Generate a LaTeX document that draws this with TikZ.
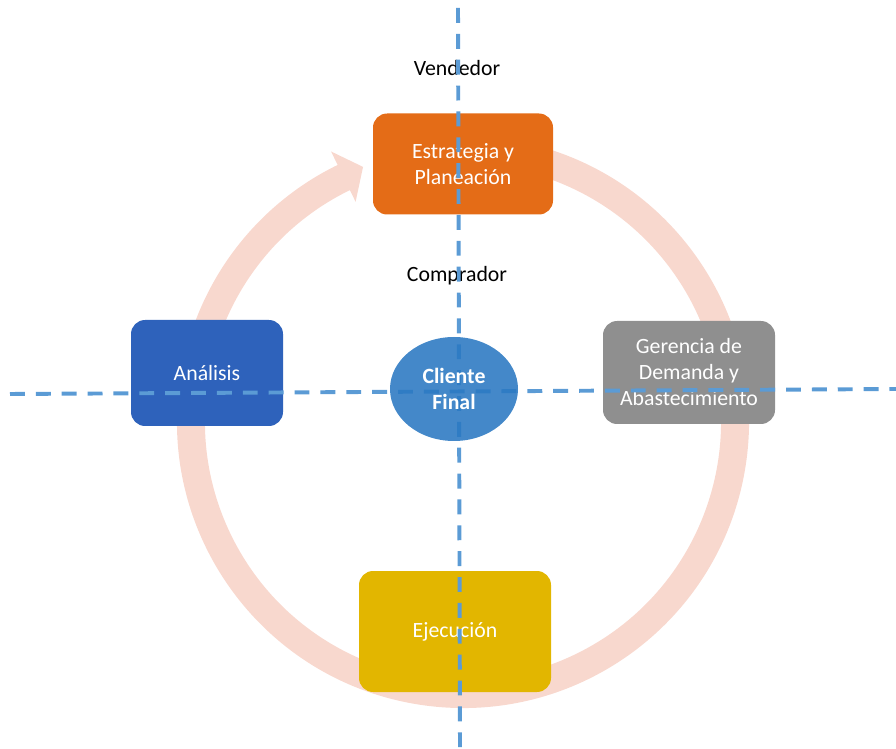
\documentclass[tikz,border=0pt]{standalone}
\usepackage{fontspec}
\setmainfont{Carlito}
\definecolor{cycle}{HTML}{F8D8CE}
\definecolor{axis}{HTML}{5B9BD5}
\definecolor{plan}{HTML}{E46C17}
\definecolor{analysis}{HTML}{2E62BB}
\definecolor{demand}{HTML}{8F8F8F}
\definecolor{execution}{HTML}{E2B600}
\definecolor{client}{HTML}{2A78C2}
\usetikzlibrary{positioning, shapes.geometric}

\begin{document}
\begin{tikzpicture}[line join=round,
    phase/.style={rounded corners=10pt, text=white, align=center,
        font=\fontsize{15.5}{18.5}\selectfont},
    role/.style={font=\fontsize{15.5}{18.5}\selectfont},
    axisline/.style={axis, line width=2.8pt, dash pattern=on 10.6pt off 7.8pt}]
    \useasboundingbox (0,0) rectangle (22.4,18.7);

    % Centre of the cycle arrow
    \coordinate (O) at (11.575, 8.15);

    % Cycle arrow (clockwise, tip pointing into the top box)
    \begin{scope}[shift={(O)}]
        \fill[cycle] (80:7.15) arc[start angle=80, end angle=-244, radius=7.15]
            -- (116:7.525) -- (111.4:6.85) -- (116:6.125) -- (116:6.45)
            arc[start angle=-244, end angle=80, radius=6.45] -- cycle;
    \end{scope}

    % Phase boxes
    \node[phase, fill=plan, minimum width=4.5cm, minimum height=2.525cm]
        (plan) at (11.575, 14.6) {Estrategia y\\Planeación};
    \node[phase, fill=analysis, minimum width=3.8cm, minimum height=2.65cm]
        (analysis) at (5.175, 9.375) {Análisis};
    \node[phase, fill=demand, minimum width=4.3cm, minimum height=2.575cm]
        (demand) at (17.225, 9.3875) {Gerencia de\\Demanda y\\Abastecimiento};
    \node[phase, fill=execution, minimum width=4.8cm, minimum height=3.025cm]
        (execution) at (11.375, 2.9125) {Ejecución};

    % Roles
    \node[role] (seller) at (11.425, 17.0) {Vendedor};
    \node[role] (buyer) at (11.425, 11.8) {Comprador};

    % Axes (dashed)
    \coordinate (top) at (11.45, 18.5);
    \coordinate (bottom) at (11.5, 0);
    \coordinate (left) at (0.25, 8.85);
    \coordinate (right) at (22.4, 8.975);
    \draw[axisline] (top) -- (bottom);
    \draw[axisline] (left) -- (right);

    % Final client
    \node[ellipse, fill=client, fill opacity=0.88, text opacity=1, text=white,
        minimum width=3.2cm, minimum height=2.6cm, inner sep=0pt, align=center,
        font=\fontsize{15.5}{18.5}\selectfont\bfseries]
        (client) at (11.35, 8.975) {Cliente\\Final};
\end{tikzpicture}
\end{document}
